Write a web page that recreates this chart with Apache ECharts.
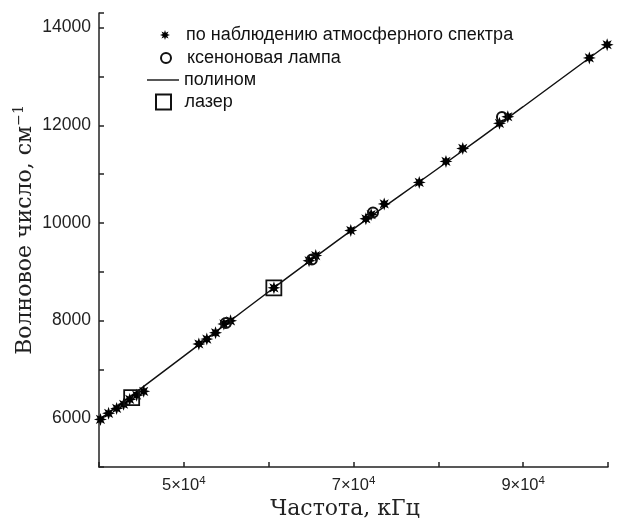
<!DOCTYPE html>
<html><head><meta charset="utf-8">
<script src="https://cdn.jsdelivr.net/npm/echarts@6/dist/echarts.min.js"></script>
<style>html,body{margin:0;padding:0;background:#fff}#c{width:622px;height:524px}</style>
</head><body><div id="c"></div>
<script>
// Atmospheric spectrum observations (frequency kHz, wavenumber cm^-1)
const atmFreq = [40170, 41130, 42080, 42900, 43620, 44440, 45270, 51770, 52710, 53740, 54720, 55510, 60620, 64760, 65550, 69680, 71460, 72080, 73620, 77750, 80900, 82880, 87210, 88190, 97800, 99900];
const atmWave = [5975, 6100, 6200, 6285, 6385, 6470, 6550, 7520, 7620, 7750, 7930, 7995, 8670, 9225, 9330, 9845, 10085, 10170, 10390, 10830, 11260, 11525, 12040, 12175, 13380, 13650];
// Xenon lamp
const xeFreq = [54950, 65100, 72300, 87500];
const xeWave = [7950, 9250, 10215, 12170];
// Laser
const laserFreq = [43850, 60610];
const laserWave = [6420, 8670];
// Polynomial fit
const polyFreq = [40000, 50000, 60000, 70000, 80000, 90000, 100000];
const polyWave = [5960, 7270, 8590, 9880, 11120, 12380, 13660];

const names = ['по наблюдению атмосферного спектра', 'ксеноновая лампа', 'полином', 'лазер'];
const xLabels = {50000: '5', 70000: '7', 90000: '9'};
const yLabels = [6000, 8000, 10000, 12000, 14000];

function starPath(n, r1, r2) {
  let d = '';
  for (let i = 0; i < 2 * n; i++) {
    const a = i * Math.PI / n - Math.PI / 2;
    const r = i % 2 ? r2 : r1;
    d += (i ? 'L' : 'M') + (r * Math.cos(a)).toFixed(3) + ' ' + (r * Math.sin(a)).toFixed(3);
  }
  return 'path://' + d + 'Z';
}
const STAR = starPath(8, 10, 4.8);

const zip = (a, b) => a.map((v, i) => [v, b[i]]);
const chart = echarts.init(document.getElementById('c'), null, {renderer: 'canvas'});
const legendFont = {fontFamily: 'Liberation Sans, Arial, sans-serif', fontSize: 18, color: '#111'};
function leg(name, left, top, iw, ih, icon) {
  const item = icon ? {name: name, icon: icon} : name;
  return {data: [item], left: left, top: top, itemWidth: iw, itemHeight: ih, itemGap: 0,
    textStyle: legendFont, selectedMode: false, padding: 0, symbolKeepAspect: true};
}
chart.setOption({
  animation: false,
  backgroundColor: '#fff',
  grid: {left: 99, right: 14, top: 13, bottom: 57},
  legend: [
    leg(names[0], 160, 26, 32, 10),
    leg(names[1], 160, 49, 32, 10),
    leg(names[2], 147, 71, 32, 14, 'path://M0 0L32 0L32 1.4L0 1.4Z'),
    leg(names[3], 155, 93, 32, 15, 'path://M0 0L10 0L10 10L0 10Z')
  ],
  xAxis: {
    type: 'value', min: 40000, max: 100000, interval: 10000,
    axisLine: {lineStyle: {color: '#222', width: 1.5}},
    axisTick: {inside: true, length: 5, lineStyle: {color: '#222', width: 1.5}},
    splitLine: {show: false},
    axisLabel: {
      margin: 8, color: '#222', fontFamily: 'Liberation Sans, Arial, sans-serif', fontSize: 16.5,
      formatter: v => xLabels[v] ? xLabels[v] + '×10{sup|4}' : '',
      rich: {sup: {fontSize: 11.5, verticalAlign: 'top', padding: [0, 0, 8, 0], color: '#222', fontFamily: 'Liberation Sans, Arial, sans-serif'}}
    }
  },
  yAxis: {
    type: 'value', min: 5000, max: 14300, interval: 1000,
    axisLine: {lineStyle: {color: '#222', width: 1.5}},
    axisTick: {inside: true, length: 5, lineStyle: {color: '#222', width: 1.5}},
    splitLine: {show: false},
    axisLabel: {
      margin: 8, color: '#222', fontFamily: 'Liberation Sans, Arial, sans-serif', fontSize: 17.5,
      formatter: v => yLabels.includes(v) ? String(v) : ''
    }
  },
  graphic: [
    {type: 'text', x: 25, y: 230, rotation: Math.PI / 2,
      style: {text: 'Волновое число, см{sup|−1}', align: 'center', verticalAlign: 'middle',
        font: '22px "DejaVu Serif", "Liberation Serif", serif', fill: '#222',
        rich: {sup: {fontSize: 14, fontFamily: 'DejaVu Serif', padding: [0, 0, 12, 0], fill: '#222'}}}},
    {type: 'text', x: 345, y: 509,
      style: {text: 'Частота, кГц', align: 'center', verticalAlign: 'middle',
        font: '22px "DejaVu Serif", "Liberation Serif", serif', fill: '#222'}}
  ],
  series: [
    {name: names[2], type: 'line', data: zip(polyFreq, polyWave), smooth: true, symbol: 'none',
      lineStyle: {color: '#111', width: 1.5}, itemStyle: {color: '#111'}, z: 1},
    {name: names[0], type: 'scatter', data: zip(atmFreq, atmWave), symbol: STAR, symbolSize: 13,
      itemStyle: {color: '#000', opacity: 1}, z: 3},
    {name: names[1], type: 'scatter', data: zip(xeFreq, xeWave), symbol: 'circle', symbolSize: 10,
      itemStyle: {color: 'rgba(255,255,255,0)', borderColor: '#111', borderWidth: 2, opacity: 1}, z: 4},
    {name: names[3], type: 'scatter', data: zip(laserFreq, laserWave), symbol: 'rect', symbolSize: 15,
      itemStyle: {color: 'rgba(255,255,255,0)', borderColor: '#111', borderWidth: 1.8, opacity: 1}, z: 4}
  ]
});
</script></body></html>
